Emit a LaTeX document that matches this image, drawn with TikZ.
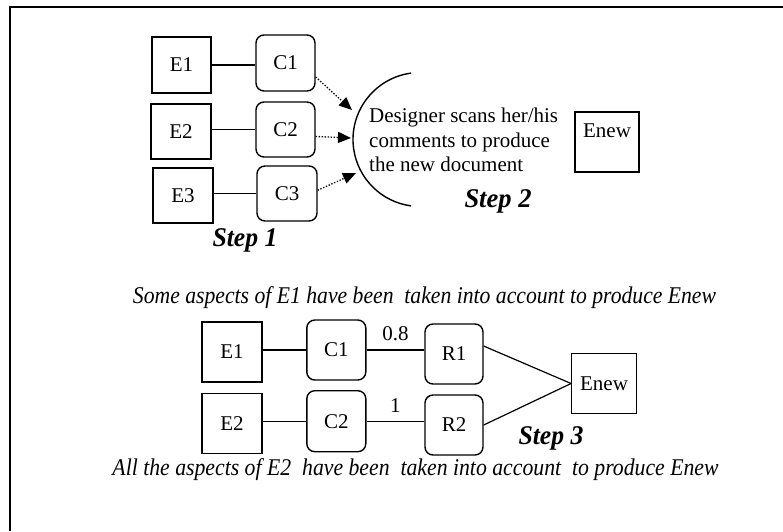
\documentclass[tikz,border=0pt]{standalone}
\usepackage{fontspec}
\setmainfont{Liberation Serif}
\usetikzlibrary{arrows.meta,calc}
\begin{document}
\begin{tikzpicture}[x=1pt,y=-1pt,
  every node/.style={font=\fontsize{21}{24.5}\selectfont},
  ebox/.style={draw,line width=1.4pt,inner sep=0pt},
  cbox/.style={draw,line width=1.4pt,rounded corners=8pt,inner sep=0pt},
  link/.style={line width=1.2pt},
  dotarrow/.style={line width=1.3pt,dash pattern=on 1.3pt off 1.7pt,
    -{Triangle[length=13pt,width=11pt]}},
  weight/.style={inner sep=3pt},
  steplbl/.style={font=\fontsize{27}{30}\selectfont\bfseries\itshape,inner sep=0pt},
  note/.style={font=\fontsize{24}{28}\selectfont\itshape,inner sep=0pt}]

\useasboundingbox (0,0) rectangle (783,531);
% page frame (top and left rules)
\draw[line width=2pt] (10,531) -- (10,7) -- (783,7);

% ---------- Step 1: documents and their comments ----------
\node[ebox,minimum width=59pt,minimum height=56pt] (E1a) at (181.5,65) {E1};
\node[cbox,minimum width=59pt,minimum height=56pt] (C1a) at (285.5,63) {C1};
\node[ebox,minimum width=60pt,minimum height=55pt] (E2a) at (181,131.5) {E2};
\node[cbox,minimum width=59pt,minimum height=55pt] (C2a) at (285.5,129.5) {C2};
\node[ebox,minimum width=60pt,minimum height=55pt] (E3a) at (183,195.5) {E3};
\node[cbox,minimum width=60pt,minimum height=55pt] (C3a) at (287,193.5) {C3};

\draw[link] (E1a.east) -- (E1a.east -| C1a.west);
\draw[link] (C2a.west -| E2a.east) -- (C2a.west);
\draw[link] (C3a.west -| E3a.east) -- (C3a.west);

\node[steplbl] (s1) at (245,240) {\resizebox{65pt}{\height}{Step 1}};

% ---------- Step 2: the designer scans the comments ----------
\coordinate (arcC) at (420,139.5);
\draw[line width=1.4pt] (arcC) ++(97.7:67pt) arc[start angle=97.7,end angle=262.3,radius=67pt];

\coordinate (t1) at (352,110);
\coordinate (t2) at (351,138);
\coordinate (t3) at (356,173);
\draw[dotarrow] (C1a.-25) -- (t1);
\draw[dotarrow] (C2a.-13) -- (t2);
\draw[dotarrow] (C3a.6) -- (t3);

\node[anchor=west,align=left,inner sep=0pt] (scan) at (369,140)
  {Designer scans her/his\\comments to produce\\the new document};

\node[ebox,minimum width=64pt,inner ysep=0pt,text height=25pt,text depth=35pt]
  (Enew2) at (607,142) {Enew};

\node[steplbl] (s2) at (498,201) {\resizebox{67pt}{\height}{Step 2}};

% ---------- Step 3: weighted relations to the new document ----------
\node[note] (n1) at (424.5,298)
  {\resizebox{583pt}{\height}{Some aspects of E1 have been~ taken into account to produce Enew}};

\node[ebox,minimum width=60pt,minimum height=60pt] (E1b) at (232,352) {E1};
\node[cbox,minimum width=59pt,minimum height=60pt] (C1b) at (336.3,350) {C1};
\node[cbox,minimum width=58pt,minimum height=60pt] (R1b) at (454,354) {R1};
\node[ebox,minimum width=60pt,minimum height=60pt] (E2b) at (232,423.3) {E2};
\node[cbox,minimum width=59pt,minimum height=61pt] (C2b) at (336.3,421.2) {C2};
\node[cbox,minimum width=58pt,minimum height=60pt] (R2b) at (454,425) {R2};
\node[ebox,minimum width=64.5pt,minimum height=60.5pt] (Enew3) at (604,383.5) {Enew};

\draw[link] (C1b.west -| E1b.east) -- (C1b.west);
\draw[link] (C1b.east) -- (C1b.east -| R1b.west) node[weight,midway,above=6pt] {0.8};
\draw[link] (C2b.west -| E2b.east) -- (C2b.west);
\draw[link] (C2b.east) -- (C2b.east -| R2b.west) node[weight,midway,above=5.5pt] {1};
\draw[link] (R1b.15) -- (Enew3.west);
\draw[link] (R2b.east) -- (Enew3.west);

\node[steplbl] (s3) at (551,438) {\resizebox{65pt}{\height}{Step 3}};

\node[note] (n2) at (415.5,470)
  {\resizebox{606pt}{\height}{All the aspects of E2~ have been~ taken into account~ to produce Enew}};
\end{tikzpicture}
\end{document}
